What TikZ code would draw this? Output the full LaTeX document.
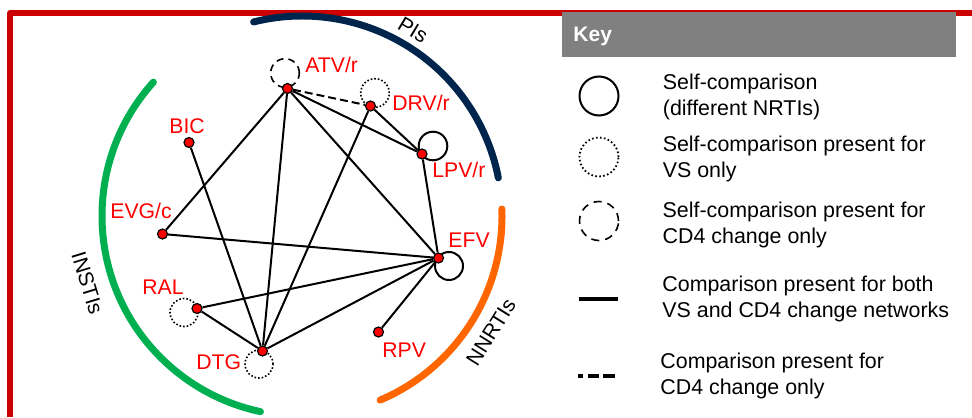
\documentclass[tikz,border=0pt]{standalone}
\usepackage{fontspec}
\setmainfont{Liberation Sans}
\usetikzlibrary{positioning,backgrounds}
\definecolor{frame red}{RGB}{204,0,0}
\definecolor{pi navy}{RGB}{0,37,77}
\definecolor{insti green}{RGB}{0,176,80}
\definecolor{nnrti orange}{RGB}{255,102,0}
\definecolor{key gray}{RGB}{128,128,128}

\begin{document}
\begin{tikzpicture}[x=0.5pt,y=-0.5pt,
    drug/.style={circle,draw,fill=red,inner sep=0pt,minimum size=5pt,line width=0.6pt},
    drugname/.style={anchor=base west,inner sep=0pt,text=red,font=\fontsize{10.6}{12.5}\selectfont},
    link/.style={line width=1pt},
    cd4link/.style={line width=1pt,dash pattern=on 4pt off 2pt},
    vsloop/.style={line width=0.8pt,dash pattern=on 0.8pt off 1pt},
    cd4loop/.style={line width=0.8pt,dash pattern=on 3.5pt off 2.5pt},
    classarc/.style={line width=3.5pt,line cap=round},
    classname/.style={inner sep=0pt,font=\fontsize{10.5}{12.5}\selectfont},
    keytext/.style={align=left,inner sep=0pt,font=\fontsize{10.7}{12.6}\selectfont},
    keysym/.style={circle,draw,inner sep=0pt,minimum size=19.5pt},
  ]
  \useasboundingbox (0,0) rectangle (972,417);

  % frame
  \draw[frame red,line width=2.8pt,line join=round] (10,417) -- (10,13) -- (972,13);

  % drug classes
  \coordinate (hub) at (302,216);
  \draw[classarc,pi navy] (hub) ++(-104:200) arc[start angle=-104,end angle=-11,radius=200];
  \draw[classarc,insti green] (hub) ++(-138:200) arc[start angle=-138,end angle=-258,radius=200];
  \draw[classarc,nnrti orange] (hub) ++(-2:200) arc[start angle=-2,end angle=67,radius=200];
  \node[classname,rotate=-31] (pisname) at (413,30) {PIs};
  \node[classname,rotate=-73] (instisname) at (87.5,283) {INSTIs};
  \node[classname,rotate=58] (nnrtisname) at (491,332) {NNRTIs};

  % drugs
  \node[drug] (atv) at (287.5,88.5) {};
  \node[drug] (drv) at (370.5,106) {};
  \node[drug] (lpv) at (422,154) {};
  \node[drug] (bic) at (189,142.5) {};
  \node[drug] (evg) at (162.5,234) {};
  \node[drug] (efv) at (438.5,258) {};
  \node[drug] (ral) at (197,308.5) {};
  \node[drug] (dtg) at (262.5,351) {};
  \node[drug] (rpv) at (378.5,332) {};
  \node[drugname] (atvname) at (305,73) {ATV/r};
  \node[drugname] (drvname) at (392,111) {DRV/r};
  \node[drugname] (lpvname) at (432,177) {LPV/r};
  \node[drugname] (bicname) at (169,133) {BIC};
  \node[drugname] (evgname) at (110,218) {EVG/c};
  \node[drugname] (efvname) at (448,247) {EFV};
  \node[drugname] (ralname) at (142,294) {RAL};
  \node[drugname] (dtgname) at (196,369) {DTG};
  \node[drugname] (rpvname) at (382,357) {RPV};

  \begin{pgfonlayer}{background}
    % comparisons
    \draw[cd4link] (atv) -- (drv);
    \draw[link] (atv) -- (lpv);
    \draw[link] (atv) -- (evg);
    \draw[link] (atv) -- (dtg);
    \draw[link] (atv) -- (efv);
    \draw[link] (drv) -- (lpv);
    \draw[link] (drv) -- (dtg);
    \draw[link] (lpv) -- (efv);
    \draw[link] (bic) -- (dtg);
    \draw[link] (evg) -- (efv);
    \draw[link] (efv) -- (ral);
    \draw[link] (efv) -- (dtg);
    \draw[link] (efv) -- (rpv);
    \draw[link] (ral) -- (dtg);
    % self-comparisons
    \draw[cd4loop] (atv.center) ++(-2.5,-15.5) circle[radius=7.15pt];
    \draw[vsloop] (drv.center) ++(4.5,-13) circle[radius=7.15pt];
    \draw[link] (lpv.center) ++(11,-8) circle[radius=7.15pt];
    \draw[link] (efv.center) ++(10.5,8) circle[radius=7pt];
    \draw[vsloop] (ral.center) ++(-13,4) circle[radius=7pt];
    \draw[vsloop] (dtg.center) ++(-3.5,13) circle[radius=7pt];
  \end{pgfonlayer}

  % key
  \fill[key gray] (562,12) rectangle (956,57);
  \node[anchor=base west,inner sep=0pt,text=white,font=\bfseries\fontsize{10.5}{12.5}\selectfont] (keytitle) at (573,42) {Key};
  \node[keysym,line width=1pt] (keysolid) at (599,96) {};
  \node[keysym,line width=0.9pt,dash pattern=on 0.8pt off 1.2pt] (keydotted) at (599,157) {};
  \node[keysym,line width=0.8pt,dash pattern=on 4pt off 3pt] (keydashed) at (599,221) {};
  \coordinate (keyboth) at (579,299);
  \coordinate (keybothend) at (618,299);
  \draw[line width=2pt] (keyboth) -- (keybothend);
  \coordinate (keycd4) at (578,376);
  \coordinate (keycd4end) at (615,376);
  \draw[line width=2pt,dash pattern=on 2.5pt off 2.5pt on 5.5pt off 2pt on 6pt off 10pt] (keycd4) -- (keycd4end);
  \node[keytext,right=21.5pt of keysolid,yshift=-0.5pt] (keysolidtext) {Self-comparison\\(different NRTIs)};
  \node[keytext,right=21.5pt of keydotted,yshift=-1pt] (keydottedtext) {Self-comparison present for\\VS only};
  \node[keytext,right=21.5pt of keydashed,yshift=-2pt] (keydashedtext) {Self-comparison present for\\CD4 change only};
  \node[keytext,right=22pt of keybothend] (keybothtext) {Comparison present for both\\VS and CD4 change networks};
  \node[keytext,right=22.5pt of keycd4end] (keycd4text) {Comparison present for\\CD4 change only};
\end{tikzpicture}
\end{document}
